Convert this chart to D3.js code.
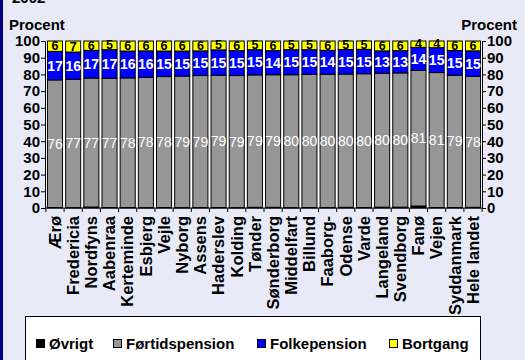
<!DOCTYPE html>
<html><head><meta charset="utf-8">
<script src="https://cdn.jsdelivr.net/npm/d3@7"></script>
<style>body{margin:0;background:#E8EAF8;}svg{display:block;font-family:"Liberation Sans",Arial,sans-serif;}svg text{font-family:"Liberation Sans",Arial,sans-serif;}</style>
</head><body><svg id="c" width="525" height="360"></svg>
<script>
const categories = ["Ærø","Fredericia","Nordfyns","Aabenraa","Kerteminde","Esbjerg","Vejle","Nyborg","Assens","Haderslev","Kolding","Tønder","Sønderborg","Middelfart","Billund","Faaborg-","Odense","Varde","Langeland","Svendborg","Fanø","Vejen","Syddanmark","Hele landet"];
const ovrigt =        [0.3,0.2,0.6,0.3,0.3,0.2,0.3,0.2,0.3,0.3,0.2,0.4,0.4,0.2,0.3,0.3,0.4,0.3,0.5,0.5,1.2,0.3,0.3,0.4];
const fortidspension = [76.4,76.9,77.2,77.4,77.6,78.1,78.4,78.8,79.0,79.2,79.1,79.3,79.4,79.6,79.7,79.8,79.8,80.1,80.2,80.4,81.2,80.8,79.2,78.4];
const folkepension =  [17.1,16.3,16.6,17.1,16.1,15.8,15.3,15.0,14.8,15.2,14.9,15.1,14.4,15.0,14.8,14.3,14.7,14.6,13.4,13.3,13.8,14.9,14.8,15.3];
const bortgang =      [6.2,6.6,5.6,5.2,6.0,5.9,6.0,6.0,5.9,5.3,5.8,5.2,5.8,5.2,5.2,5.6,5.1,5.0,5.9,5.8,3.8,4.0,5.7,5.9];
const yTicks = [0,10,20,30,40,50,60,70,80,90,100];
const seriesNames = ["Øvrigt","Førtidspension","Folkepension","Bortgang"];
const colors = ["#000000","#969696","#0000FF","#FFFF00"];
const labelColors = [null,"#FFFFFF","#FFFFFF","#000000"];

const svg = d3.select("#c");
svg.append("rect").attr("x",0).attr("y",0).attr("width",3).attr("height",360).attr("fill","#000080");
svg.append("text").attr("x",12).attr("y",3).attr("font-size",15).attr("font-weight","bold").text("2002");

const x0 = 46, x1 = 482, yTop = 41, yBot = 208;
const x = d3.scaleBand().domain(categories).range([x0,x1]).paddingInner(0.17).paddingOuter(0.08);
const y = d3.scaleLinear().domain([0,100]).range([yBot,yTop]);

const rows = categories.map((c,i)=>({cat:c,"Øvrigt":ovrigt[i],"Førtidspension":fortidspension[i],"Folkepension":folkepension[i],"Bortgang":bortgang[i]}));
const stacked = d3.stack().keys(seriesNames)(rows);

svg.append("rect").attr("x",x0).attr("y",yTop).attr("width",x1-x0).attr("height",yBot-yTop).attr("fill","#FFFFFF");

stacked.forEach((s,si)=>{
  const g = svg.append("g");
  g.selectAll("rect").data(s).join("rect")
    .attr("x",d=>x(d.data.cat)).attr("width",x.bandwidth())
    .attr("y",d=>y(d[1])).attr("height",d=>Math.max(0,y(d[0])-y(d[1])))
    .attr("fill",colors[si]).attr("stroke","#000").attr("stroke-width",1);
});
// labels
stacked.forEach((s,si)=>{
  if(!labelColors[si]) return;
  svg.append("g").selectAll("text").data(s).join("text")
    .attr("x",d=>x(d.data.cat)+x.bandwidth()/2)
    .attr("y",d=>(y(d[0])+y(d[1]))/2+ (si===3?4:5))
    .attr("text-anchor","middle")
    .attr("font-size",si===1?14:(si===2?14:12.5))
    .attr("font-weight",si===1?"normal":"bold")
    .attr("fill",labelColors[si])
    .text(d=>Math.round(d[1]-d[0]));
});

// axes
const yAxisL = svg.append("g").attr("transform",`translate(${x0-1},0)`)
  .call(d3.axisLeft(y).tickValues(yTicks).tickSize(4).tickSizeOuter(0));
const yAxisR = svg.append("g").attr("transform",`translate(${x1},0)`)
  .call(d3.axisRight(y).tickValues(yTicks).tickSize(4).tickSizeOuter(0));
[yAxisL,yAxisR].forEach(a=>{
  a.selectAll("text").attr("font-size",15).attr("font-weight","bold").attr("fill","#000");
  a.selectAll("path,line").attr("stroke","#000");
});
yAxisL.selectAll("text").attr("x",-5);
yAxisR.selectAll("text").attr("x",5);

const xAxis = svg.append("g").attr("transform",`translate(0,${yBot})`)
  .call(d3.axisBottom(x).tickSize(0).tickSizeOuter(0));
xAxis.select(".domain").attr("d",`M${x0-1},0H${x1}`).attr("stroke","#000");
xAxis.selectAll(".tick text")
  .attr("transform","rotate(-90)")
  .attr("text-anchor","end").attr("x",-8).attr("y",0).attr("dy","0.35em")
  .attr("font-size",16.5).attr("font-weight","bold").attr("fill","#000");
// separator ticks between categories
const step = x.step();
const sepPos = d3.range(categories.length+1).map(i=>x(categories[0]) - x.paddingInner()*step/2 + i*step);
svg.append("g").selectAll("line").data(sepPos).join("line")
  .attr("x1",d=>d).attr("x2",d=>d).attr("y1",yBot).attr("y2",yBot+4).attr("stroke","#000");

svg.append("text").attr("x",9).attr("y",30).attr("font-size",15).attr("font-weight","bold").text("Procent");
svg.append("text").attr("x",517).attr("y",30).attr("text-anchor","end").attr("font-size",15).attr("font-weight","bold").text("Procent");

// legend
svg.append("rect").attr("x",25.5).attr("y",316.5).attr("width",455).attr("height",60).attr("fill","#FFF").attr("stroke","#000");
const legX = [36,113,257,389];
seriesNames.forEach((n,i)=>{
  svg.append("rect").attr("x",legX[i]+0.5).attr("y",339.5).attr("width",8).attr("height",8).attr("fill",colors[i]).attr("stroke","#000");
  svg.append("text").attr("x",legX[i]+13).attr("y",349).attr("font-size",15).attr("font-weight","bold").text(n);
});
</script></body></html>
